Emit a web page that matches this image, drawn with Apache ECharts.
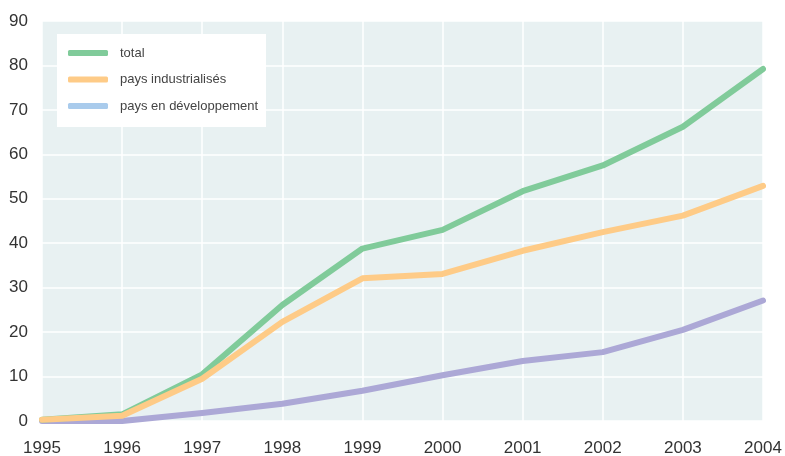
<!DOCTYPE html>
<html>
<head>
<meta charset="utf-8">
<script src="https://cdn.jsdelivr.net/npm/echarts@6/dist/echarts.min.js"></script>
<style>
  html, body { margin: 0; padding: 0; background: #ffffff; }
  #chart { width: 785px; height: 456px; }
</style>
</head>
<body>
<div id="chart"></div>
<script>
// Years on the horizontal axis
const years = ['1995', '1996', '1997', '1998', '1999', '2000', '2001', '2002', '2003', '2004'];

// Series values
const totalValues = [0.3, 1.5, 10.5, 26.1, 38.8, 43.0, 51.7, 57.5, 66.2, 79.2];
const industrialValues = [0.3, 1.2, 9.5, 22.3, 32.1, 33.1, 38.3, 42.5, 46.2, 52.9];
const developingValues = [0.0, 0.0, 1.8, 3.9, 6.8, 10.3, 13.5, 15.5, 20.5, 27.1];

const names = ['total', 'pays industrialisés', 'pays en développement'];
const lineColors = ['#80cb9a', '#fecb87', '#aca8d6'];
const legendColors = ['#80cb9a', '#fecb87', '#a9cbec'];

const FONT = '"Liberation Sans Narrow", "Liberation Sans", sans-serif';

const chart = echarts.init(document.getElementById('chart'), null, { renderer: 'canvas' });

function lineSeries(name, data, color, z) {
  return {
    name: name,
    type: 'line',
    data: data,
    symbol: 'none',
    z: z,
    lineStyle: { color: color, width: 6, cap: 'round', join: 'round' },
    itemStyle: { color: color },
    animation: false
  };
}

chart.setOption({
  animation: false,
  grid: {
    left: 42, right: 22, top: 21, bottom: 35,
    outerBoundsMode: 'none',
    containLabel: false,
    show: true, backgroundColor: '#e8f1f2', borderWidth: 0
  },
  legend: {
    orient: 'vertical',
    left: 57, top: 34,
    backgroundColor: '#ffffff',
    padding: [11, 8, 13, 11],
    itemGap: 10.5,
    itemWidth: 40,
    itemHeight: 6,
    icon: 'roundRect',
    textStyle: { fontFamily: FONT, fontSize: 13, lineHeight: 16, color: '#444', padding: [0, 0, 0, 7] },
    data: names.map((n, i) => ({ name: n, itemStyle: { color: legendColors[i] } }))
  },
  xAxis: {
    type: 'category',
    data: years,
    boundaryGap: false,
    axisLine: { show: false },
    axisTick: { show: false },
    axisLabel: { fontFamily: FONT, fontSize: 17, color: '#333', margin: 19 },
    splitLine: { show: true, lineStyle: { color: '#ffffff', width: 1.5 } }
  },
  yAxis: {
    type: 'value',
    min: 0, max: 90, interval: 10,
    axisLine: { show: false },
    axisTick: { show: false },
    axisLabel: { fontFamily: FONT, fontSize: 17, color: '#333', margin: 14 },
    splitLine: { show: true, lineStyle: { color: '#ffffff', width: 1.5 } }
  },
  series: [
    lineSeries(names[2], developingValues, lineColors[2], 2),
    lineSeries(names[0], totalValues, lineColors[0], 3),
    lineSeries(names[1], industrialValues, lineColors[1], 4)
  ]
});
</script>
</body>
</html>
